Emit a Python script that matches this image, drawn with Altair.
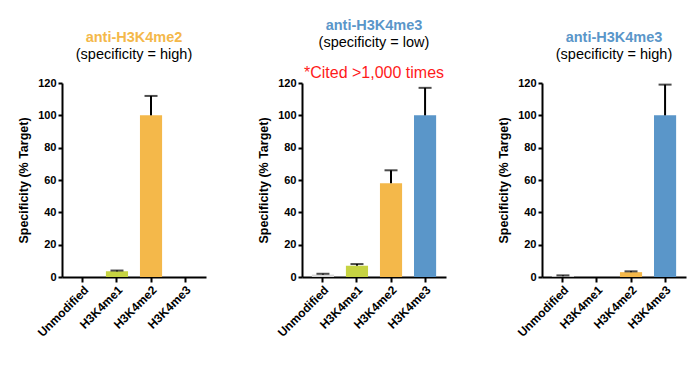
import altair as alt
import pandas as pd

categories = ["Unmodified", "H3K4me1", "H3K4me2", "H3K4me3"]
cat_colors = ["#D9D9D9", "#C6D342", "#F4B84A", "#5A96C9"]

# panel 1: anti-H3K4me2 (high)
p1_values = [0.0, 3.5, 100.0, 0.0]
p1_upper = [None, 4.0, 112.0, None]
# panel 2: anti-H3K4me3 (low)
p2_values = [1.5, 7.0, 58.0, 100.0]
p2_upper = [2.0, 8.0, 66.0, 117.0]
# panel 3: anti-H3K4me3 (high)
p3_values = [0.5, 0.0, 3.0, 100.0]
p3_upper = [1.0, None, 3.5, 119.0]

titles = ["anti-H3K4me2", "anti-H3K4me3", "anti-H3K4me3"]
title_colors = ["#F4B84A", "#5A96C9", "#5A96C9"]
subtitles = ["(specificity = high)", "(specificity = low)", "(specificity = high)"]
cited_text = "*Cited >1,000 times"
y_ticks = [0, 20, 40, 60, 80, 100, 120]

FONT = "Liberation Sans"

x_axis = alt.Axis(labelAngle=-45, labelFontWeight="bold", labelFontSize=12,
                  labelFont=FONT, labelColor="black", domainColor="black",
                  domainWidth=2, tickColor="black", tickWidth=2, tickSize=5,
                  labelPadding=2)
y_axis = alt.Axis(values=y_ticks, grid=False, labelFontWeight="bold",
                  labelFontSize=11, labelFont=FONT, labelColor="black",
                  labelOverlap=False,
                  titleFont=FONT, titleFontSize=12.5, titleFontWeight="bold",
                  titleColor="black", titlePadding=7, domainColor="black",
                  domainWidth=2, tickColor="black", tickWidth=2, tickSize=4,
                  labelPadding=2)
x_scale = alt.Scale(paddingInner=0.35, paddingOuter=0.29)
y_scale = alt.Scale(domain=[0, 120], nice=False)
Y_TITLE = "Specificity (% Target)"


def make_panel(values, uppers, title, tcolor, subtitle, note=None):
    df = pd.DataFrame({"category": categories, "value": values, "upper": uppers})
    base = alt.Chart(df)
    x = alt.X("category:N", sort=categories, title=None, scale=x_scale, axis=x_axis)
    bars = base.mark_bar().encode(
        x=x,
        y=alt.Y("value:Q", title=Y_TITLE, scale=y_scale, axis=y_axis),
        color=alt.Color("category:N", scale=alt.Scale(domain=categories, range=cat_colors),
                        legend=None),
    )
    err = base.transform_filter("isValid(datum.upper)")
    stem = err.mark_rule(color="black", strokeWidth=2).encode(
        x=x, y=alt.Y("value:Q", title=Y_TITLE, scale=y_scale, axis=y_axis), y2="upper:Q")
    cap = err.mark_tick(color="black", thickness=2, size=13).encode(
        x=x, y=alt.Y("upper:Q", title=Y_TITLE, scale=y_scale, axis=y_axis))
    layers = [bars, stem, cap]
    if note:
        ndf = pd.DataFrame({"t": [note]})
        txt = alt.Chart(ndf).mark_text(color="#FF1A1A", fontSize=16, font=FONT,
                                       baseline="middle", align="center").encode(
            text="t:N", x=alt.value(72), y=alt.value(-10))
        layers.append(txt)
    return alt.layer(*layers).properties(
        width=144, height=194,
        title=alt.TitleParams(text=title, subtitle=[subtitle], color=tcolor,
                              font=FONT, fontSize=14.5, fontWeight="bold",
                              subtitleFont=FONT, subtitleFontSize=14.5,
                              subtitleColor="black", subtitleFontWeight="normal",
                              subtitlePadding=2, anchor="middle", frame="group",
                              offset=15),
    )


p1 = make_panel(p1_values, p1_upper, titles[0], title_colors[0], subtitles[0])
p2 = make_panel(p2_values, p2_upper, titles[1], title_colors[1], subtitles[1], cited_text)
p3 = make_panel(p3_values, p3_upper, titles[2], title_colors[2], subtitles[2])

chart = alt.hconcat(p1, p2, p3, spacing=96, bounds="flush").properties(
    padding={"left": 17, "top": 18, "right": 5, "bottom": 5},
    background="white",
).configure_view(stroke=None, strokeWidth=0)

chart.save("out.html", embed_options={"renderer": "svg", "actions": False})
